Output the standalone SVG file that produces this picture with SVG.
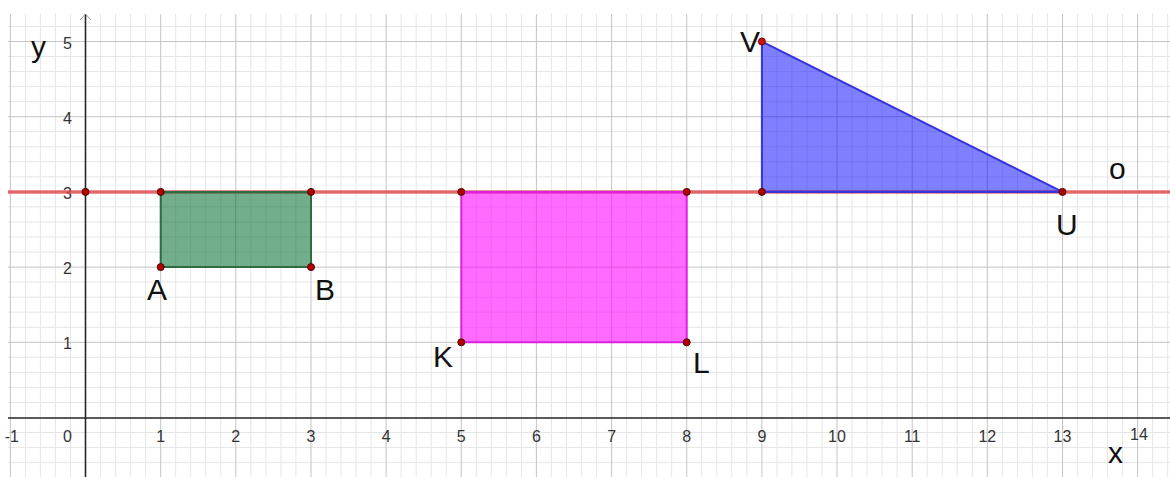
<svg xmlns="http://www.w3.org/2000/svg" width="1170" height="477" viewBox="0 0 1170 477">
<style>
.minor{stroke:#e6e6e6;stroke-width:1;fill:none}
.major{stroke:#c4c4c4;stroke-width:1;fill:none}
.axis{stroke:#262626;stroke-width:1.6;fill:none}
.tick{font-family:"Liberation Sans",Arial,sans-serif;font-size:16px;fill:#333}
.lbl{font-family:"Liberation Sans",Arial,sans-serif;font-size:30px;fill:#111}
.pt{fill:#b30000;stroke:#4d0000;stroke-width:1}
</style>
<rect width="1170" height="477" fill="#fff"/>
<g id="grid">
<path class="minor" d="M25.4 14V477M40.4 14V477M55.4 14V477M70.5 14V477M100.5 14V477M115.6 14V477M130.6 14V477M145.6 14V477M175.7 14V477M190.7 14V477M205.7 14V477M220.8 14V477M250.8 14V477M265.9 14V477M280.9 14V477M295.9 14V477M326 14V477M341 14V477M356 14V477M371.1 14V477M401.1 14V477M416.2 14V477M431.2 14V477M446.2 14V477M476.3 14V477M491.3 14V477M506.3 14V477M521.4 14V477M551.4 14V477M566.5 14V477M581.5 14V477M596.5 14V477M626.6 14V477M641.6 14V477M656.6 14V477M671.7 14V477M701.7 14V477M716.8 14V477M731.8 14V477M746.8 14V477M776.9 14V477M791.9 14V477M806.9 14V477M822 14V477M852 14V477M867.1 14V477M882.1 14V477M897.1 14V477M927.2 14V477M942.2 14V477M957.2 14V477M972.3 14V477M1002.3 14V477M1017.4 14V477M1032.4 14V477M1047.4 14V477M1077.5 14V477M1092.5 14V477M1107.5 14V477M1122.6 14V477M1152.6 14V477M1167.7 14V477
M8 462.6H1170M8 447.6H1170M8 432.5H1170M8 402.5H1170M8 387.4H1170M8 372.4H1170M8 357.3H1170M8 327.3H1170M8 312.2H1170M8 297.2H1170M8 282.1H1170M8 252.1H1170M8 237H1170M8 222H1170M8 206.9H1170M8 176.9H1170M8 161.8H1170M8 146.8H1170M8 131.7H1170M8 101.7H1170M8 86.6H1170M8 71.6H1170M8 56.5H1170M8 26.5H1170"/>
<path class="major" d="M10.4 14V477M160.7 14V477M235.8 14V477M311 14V477M386.1 14V477M461.3 14V477M536.4 14V477M611.6 14V477M686.7 14V477M761.9 14V477M837 14V477M912.2 14V477M987.3 14V477M1062.5 14V477M1137.6 14V477
M8 342.3H1170M8 267.1H1170M8 191.9H1170M8 116.7H1170M8 41.5H1170"/>
</g>
<g id="axes">
<path class="axis" d="M8 418H1170M85.5 14V477"/>
<path d="M80 20L85.5 14L91 20" stroke="#999" stroke-width="1" fill="none"/>
</g>
<g id="tick-labels" class="tick">
<text x="72" y="48.5" text-anchor="end">5</text>
<text x="72" y="123.7" text-anchor="end">4</text>
<text x="72" y="198.9" text-anchor="end">3</text>
<text x="72" y="274.1" text-anchor="end">2</text>
<text x="72" y="349.3" text-anchor="end">1</text>
<text x="19" y="442" text-anchor="end">-1</text>
<text x="72" y="442" text-anchor="end">0</text>
<g text-anchor="middle">
<text x="160.7" y="442">1</text>
<text x="235.8" y="442">2</text>
<text x="311" y="442">3</text>
<text x="386.1" y="442">4</text>
<text x="461.3" y="442">5</text>
<text x="536.4" y="442">6</text>
<text x="611.6" y="442">7</text>
<text x="686.7" y="442">8</text>
<text x="761.9" y="442">9</text>
<text x="837" y="442">10</text>
<text x="912.2" y="442">11</text>
<text x="987.3" y="442">12</text>
<text x="1062.5" y="442">13</text>
<text x="1139" y="440">14</text>
</g>
</g>
<g id="axis-labels" class="lbl">
<text x="31" y="57">y</text>
<text x="1108" y="463">x</text>
</g>
<g id="line-o">
<path d="M8 191.9H1170" stroke="#e04848" stroke-opacity="0.8" stroke-width="3.5"/>
<text class="lbl" x="1109" y="179">o</text>
</g>
<g id="rect-green">
<polygon points="160.7,191.9 311,191.9 311,267.1 160.7,267.1" fill="#006b2e" fill-opacity="0.55" stroke="#2d6b42" stroke-width="2"/>
</g>
<g id="rect-magenta">
<polygon points="461.3,191.9 686.7,191.9 686.7,342.3 461.3,342.3" fill="#ff00ff" fill-opacity="0.58" stroke="#dd22dd" stroke-width="2"/>
</g>
<g id="triangle-blue">
<polygon points="761.9,41.5 761.9,191.9 1062.5,191.9" fill="#0000ff" fill-opacity="0.5" stroke="#3535d8" stroke-width="2"/>
</g>
<g id="points">
<circle class="pt" cx="85.5" cy="191.9" r="3.5"/>
<circle class="pt" cx="160.7" cy="191.9" r="3.5"/>
<circle class="pt" cx="311" cy="191.9" r="3.5"/>
<circle class="pt" cx="160.7" cy="267.1" r="3.5"/>
<circle class="pt" cx="311" cy="267.1" r="3.5"/>
<circle class="pt" cx="461.3" cy="191.9" r="3.5"/>
<circle class="pt" cx="686.7" cy="191.9" r="3.5"/>
<circle class="pt" cx="461.3" cy="342.3" r="3.5"/>
<circle class="pt" cx="686.7" cy="342.3" r="3.5"/>
<circle class="pt" cx="761.9" cy="191.9" r="3.5"/>
<circle class="pt" cx="1062.5" cy="191.9" r="3.5"/>
<circle cx="761.9" cy="41.5" r="3.5" fill="#d01010" stroke="#700000" stroke-width="1"/>
</g>
<g id="point-labels" class="lbl">
<text x="147" y="300">A</text>
<text x="315" y="300">B</text>
<text x="433" y="367">K</text>
<text x="693" y="373">L</text>
<text x="740" y="52">V</text>
<text x="1056" y="235">U</text>
</g>
</svg>
